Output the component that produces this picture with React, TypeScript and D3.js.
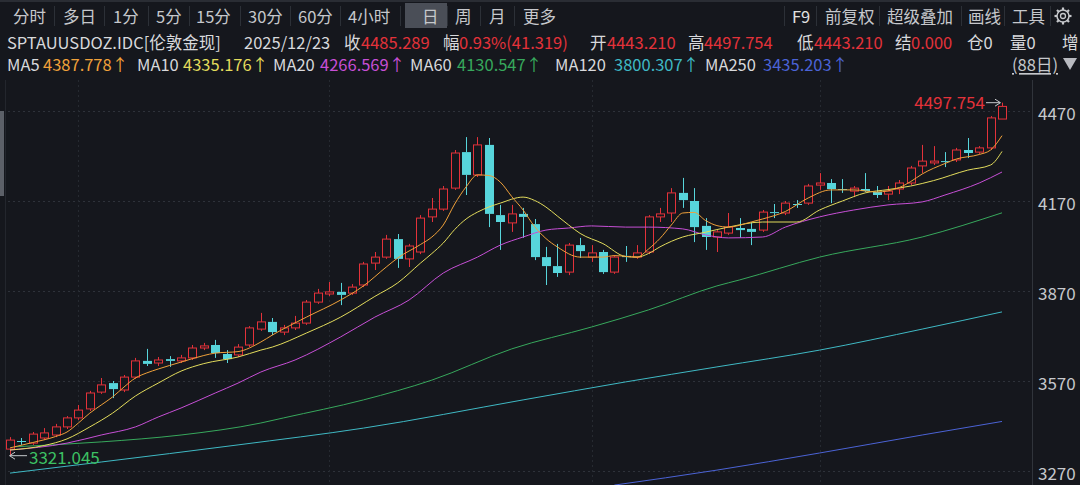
import React from "react";
import * as d3 from "d3";

// ---------- data ----------
const OPEN = [3343,3370,3363,3380,3390,3417,3447,3477,3533,3563,3540,3583,3637,3630,3643,3637,3647,3680,3690,3660,3657,3690,3743,3767,3733,3747,3763,3833,3860,3867,3863,3890,3963,3983,4043,3977,4000,4117,4143,4213,4333,4257,4357,4123,4097,4127,4093,3983,3953,3933,4023,3983,4000,3933,3987,3983,4000,4117,4130,4197,4170,4087,4050,4063,4080,4077,4073,4133,4130,4160,4163,4223,4230,4210,4203,4210,4200,4193,4210,4230,4287,4297,4303,4307,4340,4333,4347,4443.21];
const HIGH = [3383,3380,3400,3413,3427,3453,3490,3537,3580,3570,3590,3647,3677,3650,3653,3657,3690,3697,3707,3673,3693,3753,3797,3780,3757,3787,3840,3877,3900,3897,3893,3967,4000,4057,4060,4027,4123,4180,4220,4340,4383,4383,4380,4157,4157,4147,4110,4017,4027,4030,4047,4023,4007,3990,4020,4023,4123,4147,4213,4247,4213,4113,4073,4130,4113,4100,4140,4160,4170,4173,4227,4263,4243,4243,4220,4263,4220,4220,4240,4287,4357,4353,4333,4347,4380,4353,4453,4497.754];
const LOW = [3321.045,3357,3357,3373,3383,3410,3440,3470,3527,3513,3533,3577,3620,3620,3617,3630,3640,3673,3647,3630,3650,3683,3737,3723,3723,3740,3757,3827,3853,3823,3857,3883,3940,3977,3947,3950,3993,4100,4137,4207,4190,4250,4083,4007,4067,4047,3973,3890,3917,3923,3980,3967,3927,3927,3967,3977,3993,4100,4100,4147,4033,4007,4000,4057,4047,4023,4067,4113,4123,4147,4157,4207,4163,4197,4183,4200,4180,4173,4193,4223,4263,4290,4283,4300,4313,4327,4340,4443.21];
const CLOSE = [3373,3367,3393,3397,3417,3447,3473,3530,3557,3543,3583,3637,3627,3640,3637,3647,3680,3687,3663,3643,3683,3747,3767,3733,3747,3763,3833,3863,3867,3857,3883,3960,3983,4043,3977,4020,4113,4143,4210,4330,4257,4357,4127,4100,4127,4117,3983,3953,3930,4023,4003,3997,3933,3983,3983,3997,4117,4127,4197,4173,4083,4050,4067,4083,4073,4067,4133,4130,4163,4157,4220,4230,4210,4207,4213,4203,4190,4203,4230,4280,4303,4303,4300,4340,4330,4347,4447,4485.289];

// moving averages: [day index, value]
const MA5: [number, number][] = [[0,3347],[2,3365],[4,3385],[5,3400],[6,3430],[7,3463],[8,3490],[9,3517],[10,3550],[11,3580],[12,3597],[13,3610],[15,3633],[17,3655],[18,3663],[20,3668],[22,3700],[23,3723],[26,3783],[29,3840],[31,3887],[33,3950],[34,3980],[36,4025],[37,4050],[38,4090],[39,4160],[40,4217],[41,4257],[42,4255],[43,4233],[44,4185],[45,4140],[46,4085],[47,4045],[48,4017],[50,3983],[52,3983],[53,3988],[55,3983],[56,4010],[57,4045],[58,4090],[59,4130],[60,4132],[61,4105],[62,4088],[63,4083],[65,4100],[66,4110],[68,4135],[70,4180],[72,4207],[74,4207],[76,4200],[78,4215],[79,4235],[80,4260],[82,4295],[83,4310],[85,4325],[86,4340],[87,4387.778]];
const MA10: [number, number][] = [[0,3340],[3,3355],[5,3377],[7,3417],[9,3463],[11,3520],[13,3563],[15,3603],[17,3628],[20,3650],[22,3673],[23,3683],[26,3730],[29,3783],[32,3852],[34,3897],[36,3963],[37,3995],[38,4030],[39,4075],[40,4110],[41,4133],[42,4150],[43,4163],[45,4183],[46,4172],[47,4150],[48,4120],[49,4090],[50,4062],[52,4028],[54,3985],[55,3983],[56,3995],[57,4017],[59,4050],[61,4066],[63,4083],[66,4100],[69,4100],[71,4140],[73,4170],[75,4197],[77,4208],[79,4220],[81,4238],[84,4273],[86,4290],[87,4335.176]];
const MA20: [number, number][] = [[0,3340],[5,3363],[8,3390],[11,3417],[13,3450],[15,3480],[18,3530],[20,3563],[22,3600],[25,3640],[29,3717],[32,3783],[35,3840],[38,3930],[41,3983],[43,4023],[45,4050],[47,4073],[49,4080],[51,4087],[54,4083],[56,4083],[59,4077],[61,4057],[63,4047],[66,4050],[68,4083],[71,4117],[74,4140],[77,4157],[80,4167],[82,4190],[85,4230],[87,4266.569]];
const MA60: [number, number][] = [[0,3350],[8,3367],[15,3390],[22,3430],[24,3447],[31,3507],[37,3573],[44,3677],[51,3750],[56,3807],[62,3887],[64,3907],[71,3983],[80,4050],[87,4130.547]];
const MA120: [number, number][] = [[0,3263],[8,3300],[20,3357],[31,3413],[45,3507],[54,3567],[62,3617],[71,3673],[80,3743],[87,3800.307]];
const MA250: [number, number][] = [[53,3223],[62,3273],[71,3330],[80,3390],[87,3435.203]];

const Y_TICKS = [4470, 4170, 3870, 3570, 3270];
const V_GRID_DAYS = [6, 28, 51, 71];

const MA_LIST = [
  { name: "MA5", value: "4387.778", data: MA5, color: "#f0a13a" },
  { name: "MA10", value: "4335.176", data: MA10, color: "#e3dc5c" },
  { name: "MA20", value: "4266.569", data: MA20, color: "#c74fd6" },
  { name: "MA60", value: "4130.547", data: MA60, color: "#37a85c" },
  { name: "MA120", value: "3800.307", data: MA120, color: "#3fb9c4" },
  { name: "MA250", value: "3435.203", data: MA250, color: "#4b63d6" },
];

const TOOLBAR = ["分时", "多日", "1分", "5分", "15分", "30分", "60分", "4小时", "日", "周", "月", "更多"];
const TOOLBAR_X = [13, 63, 113, 156, 196, 248, 298, 348, 422, 455, 489, 523];
const TOOLBAR_R = ["F9", "前复权", "超级叠加", "画线", "工具"];
const TOOLBAR_R_X = [792, 825, 887, 968, 1012];

// ---------- layout ----------
const W = 1080, H = 485;
const FONT = '"Microsoft YaHei", "Noto Sans CJK SC", "Noto Sans", sans-serif';
const BG = "#15171d";
const RED = "#e3323a";
const CYAN = "#57d5db";
const GREY = "#c6c8cc";

export default function App() {
  const n = OPEN.length;
  const x = d3.scaleLinear().domain([0, n - 1]).range([10, 1002]);
  const y = d3.scaleLinear().domain([3270, 4470]).range([471, 111]);
  const bw = 8;

  const line = d3.line<[number, number]>()
    .x(d => x(d[0]))
    .y(d => y(d[1]))
    .curve(d3.curveMonotoneX);

  const candles = d3.range(n).map(i => {
    const o = OPEN[i], c = CLOSE[i], h = HIGH[i], l = LOW[i];
    const up = c >= o;
    const cx = Math.round(x(i)) + 0.5;
    const top = y(Math.max(o, c));
    const bot = y(Math.min(o, c));
    const bh = Math.max(1, bot - top);
    const col = up ? RED : CYAN;
    return (
      <g key={i}>
        <line x1={cx} x2={cx} y1={y(h)} y2={top} stroke={col} strokeWidth={1} />
        <line x1={cx} x2={cx} y1={top + bh} y2={y(l)} stroke={col} strokeWidth={1} />
        {up ? (
          <rect x={cx - bw / 2} y={top} width={bw} height={bh} fill={BG} stroke={col} strokeWidth={1} />
        ) : (
          <rect x={cx - bw / 2 - 0.5} y={top} width={bw + 1} height={bh} fill={col} />
        )}
      </g>
    );
  });

  const row2: { t: string; x: number; c: string }[] = [
    { t: "SPTAUUSDOZ.IDC[伦敦金现]", x: 7, c: "#d8d9dc" },
    { t: "2025/12/23", x: 244, c: "#d8d9dc" },
    { t: "收", x: 344, c: "#d8d9dc" },
    { t: "4485.289", x: 361, c: RED },
    { t: "幅", x: 443, c: "#d8d9dc" },
    { t: "0.93%(41.319)", x: 459, c: RED },
    { t: "开", x: 590, c: "#d8d9dc" },
    { t: "4443.210", x: 607, c: RED },
    { t: "高", x: 688, c: "#d8d9dc" },
    { t: "4497.754", x: 704, c: RED },
    { t: "低", x: 797, c: "#d8d9dc" },
    { t: "4443.210", x: 814, c: RED },
    { t: "结", x: 895, c: "#d8d9dc" },
    { t: "0.000", x: 911, c: RED },
    { t: "仓0", x: 967, c: "#d8d9dc" },
    { t: "量0", x: 1010, c: "#d8d9dc" },
    { t: "增", x: 1062, c: "#d8d9dc" },
  ];
  const maNameX = [7, 137, 273, 410, 555, 705];
  const maValX = [43, 183, 320, 457, 614, 763];

  const gear = (cx: number, cy: number) => {
    const teeth = d3.range(8).map(k => {
      const a = (k * Math.PI) / 4;
      return (
        <line key={k} x1={cx + Math.cos(a) * 6} y1={cy + Math.sin(a) * 6} x2={cx + Math.cos(a) * 8.5} y2={cy + Math.sin(a) * 8.5}
          stroke={GREY} strokeWidth={2.2} />
      );
    });
    return (
      <g>
        <circle cx={cx} cy={cy} r={6} fill="none" stroke={GREY} strokeWidth={1.5} />
        <circle cx={cx} cy={cy} r={2.5} fill="none" stroke={GREY} strokeWidth={1.3} />
        {teeth}
      </g>
    );
  };

  const sepX = [54, 104, 148, 189, 240, 290, 340, 400, 447, 480, 514, 784, 816, 879, 961, 1004, 1050];
  const FS = 16.5;

  return (
    <div style={{ position: "fixed", left: 0, top: 0, width: W, height: H, background: BG }}>
      <svg width={W} height={H} style={{ display: "block", fontFamily: FONT }}>
        <rect x={0} y={0} width={W} height={H} fill={BG} />
        <defs>
          <clipPath id="plot">
            <rect x={6} y={80} width={1026} height={H - 80} />
          </clipPath>
        </defs>

        {/* toolbar */}
        <rect x={0} y={0} width={W} height={2} fill="#2a2d34" />
        <rect x={405} y={3} width={42} height={25} fill="#4a4e57" />
        {sepX.map((sx, k) => (
          <line key={k} x1={sx + 0.5} x2={sx + 0.5} y1={6} y2={26} stroke="#2c3037" />
        ))}
        {TOOLBAR.map((t, k) => (
          <text key={t} x={TOOLBAR_X[k]} y={16} fontSize={FS} fill={GREY} dominantBaseline="central">{t}</text>
        ))}
        {TOOLBAR_R.map((t, k) => (
          <text key={t} x={TOOLBAR_R_X[k]} y={16} fontSize={FS} fill={k === 0 ? "#e0e0e0" : GREY} dominantBaseline="central">{t}</text>
        ))}
        {gear(1063, 16)}

        {/* info row */}
        {row2.map((r, k) => (
          <text key={k} x={r.x} y={42} fontSize={FS} fill={r.c} dominantBaseline="central">{r.t}</text>
        ))}

        {/* MA row */}
        {MA_LIST.map((m, k) => (
          <g key={m.name}>
            <text x={maNameX[k]} y={64} fontSize={FS} fill="#d8d9dc" dominantBaseline="central">{m.name}</text>
            <text x={maValX[k]} y={64} fontSize={FS} fill={m.color} dominantBaseline="central">{m.value + "↑"}</text>
          </g>
        ))}
        <text x={1012} y={64} fontSize={FS} fill={GREY} dominantBaseline="central" textDecoration="underline">(88日)</text>
        <path d="M1063,58 L1077,58 L1070,70 Z" fill="#b8bac0" />

        {/* left splitter */}
        <rect x={0} y={111} width={4} height={85} fill="#5c6068" />
        <line x1={5.5} x2={5.5} y1={80} y2={H} stroke="#23262d" />

        {/* grid */}
        {Y_TICKS.map(t => (
          <line key={t} x1={8} x2={1032} y1={Math.round(y(t)) + 0.5} y2={Math.round(y(t)) + 0.5}
            stroke="#2e323a" strokeDasharray="2,3" />
        ))}
        {V_GRID_DAYS.map(d => (
          <line key={d} x1={Math.round(x(d)) + 0.5} x2={Math.round(x(d)) + 0.5} y1={80} y2={H}
            stroke="#262a31" strokeDasharray="2,3" />
        ))}

        {/* axis */}
        <line x1={1032.5} x2={1032.5} y1={80} y2={H} stroke="#30343b" />
        {Y_TICKS.map(t => (
          <text key={t} x={1038} y={y(t) + 1} fontSize={17} fill={GREY} dominantBaseline="central">{t}</text>
        ))}

        <g clipPath="url(#plot)">
          {MA_LIST.slice(3).map(m => (
            <path key={m.name} d={line(m.data) || ""} fill="none" stroke={m.color} strokeWidth={1} />
          ))}
          {candles}
          {MA_LIST.slice(0, 3).reverse().map(m => (
            <path key={m.name} d={line(m.data) || ""} fill="none" stroke={m.color} strokeWidth={1} />
          ))}
        </g>

        {/* high / low markers */}
        <text x={985} y={y(HIGH[n - 1]) - 1} fontSize={17} fill={RED} textAnchor="end" dominantBaseline="central">4497.754</text>
        <line x1={986} x2={1000} y1={y(HIGH[n - 1])} y2={y(HIGH[n - 1])} stroke={GREY} />
        <path d={`M995,${y(HIGH[n - 1]) - 3.5} L1000.5,${y(HIGH[n - 1])} L995,${y(HIGH[n - 1]) + 3.5}`} fill="none" stroke={GREY} />

        <line x1={10} x2={27} y1={y(LOW[0])} y2={y(LOW[0])} stroke={GREY} />
        <path d={`M15,${y(LOW[0]) - 3.5} L9.5,${y(LOW[0])} L15,${y(LOW[0]) + 3.5}`} fill="none" stroke={GREY} />
        <text x={29} y={y(LOW[0]) + 1} fontSize={17} fill="#3cc063" dominantBaseline="central">3321.045</text>
      </svg>
    </div>
  );
}
